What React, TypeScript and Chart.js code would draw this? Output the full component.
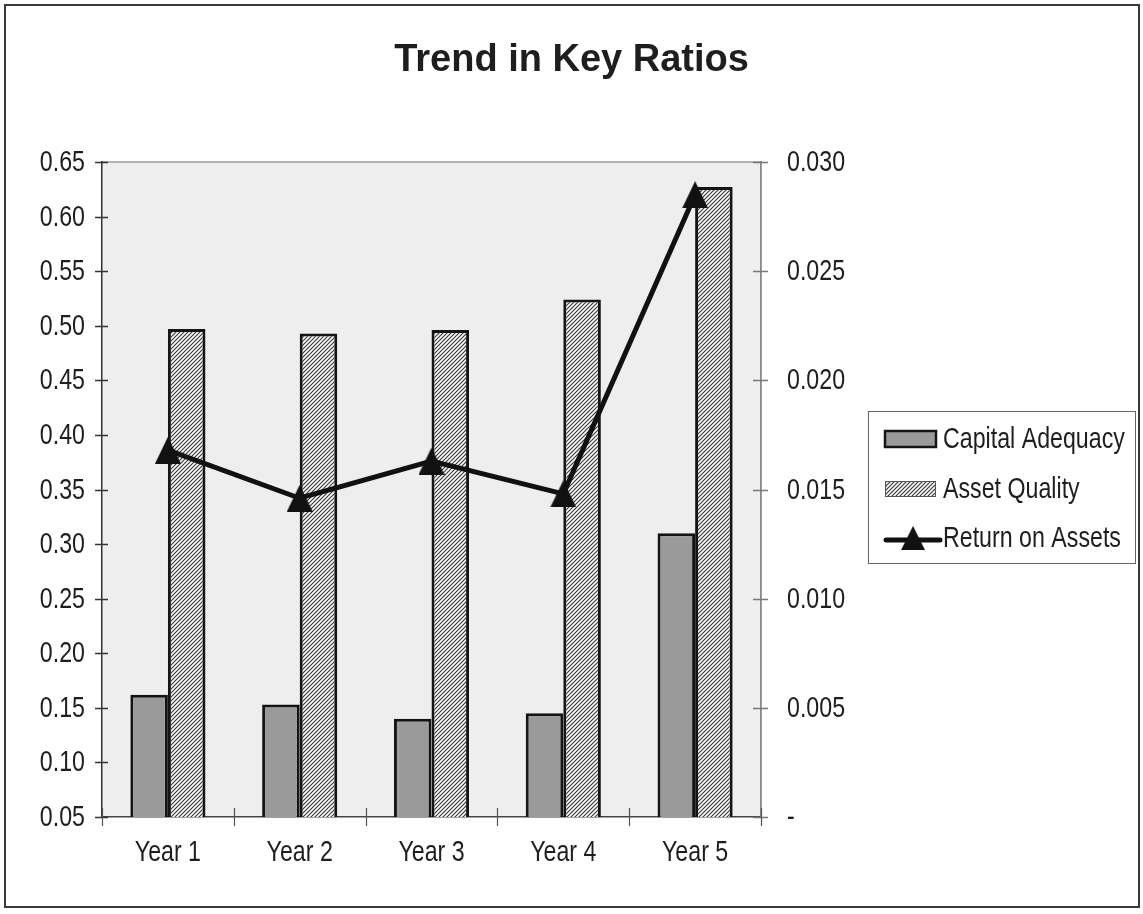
import React, { useEffect, useRef } from "react";
import { Chart, registerables } from "chart.js";

Chart.register(...registerables);

const categories = ["Year 1", "Year 2", "Year 3", "Year 4", "Year 5"];
const capitalAdequacy = [0.162, 0.153, 0.14, 0.145, 0.31];
const assetQuality = [0.497, 0.493, 0.496, 0.524, 0.627];
const returnOnAssets = [0.0168, 0.0146, 0.0163, 0.0148, 0.0285];
const seriesLabels = ["Capital Adequacy", "Asset Quality", "Return on Assets"];
const chartTitle = "Trend in Key Ratios";
const leftMin = 0.05;
const leftMax = 0.65;
const leftStep = 0.05;
const rightMin = 0;
const rightMax = 0.03;
const rightStep = 0.005;

const FONT = '"Liberation Sans", Arial, sans-serif';
const W = 1143;
const H = 914;
const TEXT = "#1e1e1e";
const GRAY_FILL = "#9a9a9a";
const SX = 0.8; // horizontal squeeze to mimic a narrow face
const LABEL_SIZE = 29;

function makeHatch(): CanvasPattern | string {
  const s = 4;
  const c = document.createElement("canvas");
  c.width = s;
  c.height = s;
  const g = c.getContext("2d");
  if (!g) return "#cccccc";
  g.fillStyle = "#ffffff";
  g.fillRect(0, 0, s, s);
  g.strokeStyle = "#3a3a3a";
  g.lineWidth = 1.2;
  g.beginPath();
  g.moveTo(0, s);
  g.lineTo(s, 0);
  g.moveTo(-1, 1);
  g.lineTo(1, -1);
  g.moveTo(s - 1, s + 1);
  g.lineTo(s + 1, s - 1);
  g.stroke();
  return g.createPattern(c, "repeat") || "#cccccc";
}

function makeTriangle(w: number, h: number): HTMLCanvasElement {
  const c = document.createElement("canvas");
  c.width = w;
  c.height = h;
  const g = c.getContext("2d");
  if (g) {
    g.fillStyle = "#111111";
    g.beginPath();
    g.moveTo(w / 2, 0);
    g.lineTo(w, h);
    g.lineTo(0, h);
    g.closePath();
    g.fill();
  }
  return c;
}

function squeezedText(
  ctx: CanvasRenderingContext2D,
  text: string,
  x: number,
  y: number,
  align: CanvasTextAlign,
  font: string,
  sx: number
) {
  ctx.save();
  ctx.font = font;
  ctx.textAlign = align;
  ctx.textBaseline = "middle";
  ctx.translate(x, y);
  ctx.scale(sx, 1);
  ctx.fillText(text, 0, 0);
  ctx.restore();
}

export default function App() {
  const ref = useRef<HTMLCanvasElement | null>(null);

  useEffect(() => {
    document.body.style.margin = "0";
    const canvas = ref.current;
    if (!canvas) return;
    const hatch = makeHatch();
    const tri = makeTriangle(26, 27);

    const framePlugin = {
      id: "frame",
      beforeDraw(chart: any) {
        const { ctx, chartArea: a } = chart;
        ctx.save();
        ctx.fillStyle = "#ffffff";
        ctx.fillRect(0, 0, W, H);
        ctx.fillStyle = "#eeeeee";
        ctx.fillRect(a.left, a.top, a.right - a.left, a.bottom - a.top);
        ctx.strokeStyle = "#9a9a9a";
        ctx.lineWidth = 1.5;
        ctx.beginPath();
        ctx.moveTo(a.left, a.top);
        ctx.lineTo(a.right, a.top);
        ctx.lineTo(a.right, a.bottom);
        ctx.stroke();
        ctx.restore();
      },
      afterDraw(chart: any) {
        const { ctx, chartArea: a } = chart;
        const yL = chart.scales.y;
        const yR = chart.scales.y1;
        const xs = chart.scales.x;
        const labelFont = `${LABEL_SIZE}px ${FONT}`;
        ctx.save();
        // outer border
        ctx.strokeStyle = "#3a3a3a";
        ctx.lineWidth = 2;
        ctx.strokeRect(5, 5, 1134, 902);

        // crossing tick marks + labels
        ctx.fillStyle = TEXT;
        ctx.strokeStyle = "#333333";
        ctx.lineWidth = 1.5;
        ctx.beginPath();
        yL.ticks.forEach((t: any) => {
          const y = Math.round(yL.getPixelForValue(t.value)) + 0.5;
          ctx.moveTo(a.left - 7, y);
          ctx.lineTo(a.left + 6, y);
        });
        ctx.stroke();
        yL.ticks.forEach((t: any) => {
          const y = yL.getPixelForValue(t.value);
          squeezedText(ctx, String(t.label), 85, y + 1, "right", labelFont, SX);
        });

        ctx.strokeStyle = "#777777";
        ctx.beginPath();
        yR.ticks.forEach((t: any) => {
          const y = Math.round(yR.getPixelForValue(t.value)) + 0.5;
          ctx.moveTo(a.right - 8, y);
          ctx.lineTo(a.right + 7, y);
        });
        ctx.stroke();
        yR.ticks.forEach((t: any) => {
          const y = yR.getPixelForValue(t.value);
          squeezedText(ctx, String(t.label), 787, y + 1, "left", labelFont, SX);
        });

        ctx.strokeStyle = "#555555";
        ctx.lineWidth = 1.2;
        ctx.beginPath();
        const n = categories.length;
        const cw = (xs.right - xs.left) / n;
        for (let i = 0; i <= n; i++) {
          const x = Math.round(xs.left + i * cw) + 0.5;
          ctx.moveTo(x, a.bottom - 9);
          ctx.lineTo(x, a.bottom + 9);
        }
        ctx.stroke();
        xs.ticks.forEach((t: any, i: number) => {
          const x = xs.getPixelForTick(i);
          squeezedText(ctx, String(t.label), x, 853, "center", labelFont, SX);
        });

        // title
        ctx.save();
        ctx.font = `bold 38px ${FONT}`;
        const tw = ctx.measureText(chartTitle).width;
        ctx.restore();
        squeezedText(ctx, chartTitle, W / 2, 61, "center", `bold 38px ${FONT}`, Math.min(1, 372 / tw));

        // legend
        const bx = 868;
        const by = 411;
        ctx.strokeStyle = "#666666";
        ctx.lineWidth = 1;
        ctx.fillStyle = "#ffffff";
        ctx.fillRect(bx, by, 267, 152);
        ctx.strokeRect(bx + 0.5, by + 0.5, 267, 152);
        const rows = [439, 489, 538];
        const ds = chart.data.datasets;
        ctx.fillStyle = GRAY_FILL;
        ctx.fillRect(885, rows[0] - 8, 51, 16);
        ctx.strokeStyle = "#151515";
        ctx.lineWidth = 2.5;
        ctx.strokeRect(885, rows[0] - 8, 51, 16);
        ctx.fillStyle = hatch as any;
        ctx.fillRect(885, rows[1] - 8, 51, 16);
        ctx.strokeStyle = "#555555";
        ctx.lineWidth = 1;
        ctx.strokeRect(885.5, rows[1] - 7.5, 50, 15);
        ctx.strokeStyle = "#111111";
        ctx.lineWidth = 5;
        ctx.lineCap = "round";
        ctx.beginPath();
        ctx.moveTo(886, rows[2] + 2);
        ctx.lineTo(940, rows[2] + 2);
        ctx.stroke();
        ctx.drawImage(tri, 913 - 12, rows[2] - 12, 24, 24);
        ctx.fillStyle = TEXT;
        rows.forEach((ry, i) => {
          squeezedText(ctx, ds[i].label, 943, ry + 1, "left", labelFont, SX);
        });
        ctx.restore();
      },
    };

    const chart = new Chart(canvas, {
      type: "bar",
      data: {
        labels: categories,
        datasets: [
          {
            type: "bar",
            label: seriesLabels[0],
            data: capitalAdequacy,
            backgroundColor: GRAY_FILL,
            borderColor: "#141414",
            borderWidth: 3,
            yAxisID: "y",
            order: 1,
            categoryPercentage: 0.57,
            barPercentage: 1,
          },
          {
            type: "bar",
            label: seriesLabels[1],
            data: assetQuality,
            backgroundColor: hatch as any,
            borderColor: "#141414",
            borderWidth: 3,
            yAxisID: "y",
            order: 1,
            categoryPercentage: 0.57,
            barPercentage: 1,
          },
          {
            type: "line",
            label: seriesLabels[2],
            data: returnOnAssets,
            borderColor: "#111111",
            backgroundColor: "#111111",
            borderWidth: 5,
            pointStyle: tri,
            pointRadius: 14,
            tension: 0,
            yAxisID: "y1",
            order: 0,
          },
        ] as any,
      },
      options: {
        responsive: false,
        animation: false,
        devicePixelRatio: 1,
        layout: { padding: { top: 162, right: 282, bottom: 0, left: 0 } },
        plugins: {
          legend: { display: false },
          title: { display: false },
          tooltip: { enabled: false },
        },
        scales: {
          x: {
            type: "category",
            offset: true,
            grid: { display: false, drawTicks: false },
            border: { display: true, color: "#444444", width: 1.5 },
            ticks: { display: false },
            afterFit: (s: any) => {
              s.height = 97;
            },
          },
          y: {
            position: "left",
            min: leftMin,
            max: leftMax,
            grid: { display: false, drawTicks: false },
            border: { display: true, color: "#333333", width: 1.5 },
            ticks: {
              display: false,
              stepSize: leftStep,
              callback: (v: any) => Number(v).toFixed(2),
            },
            afterFit: (s: any) => {
              s.width = 102;
            },
          },
          y1: {
            position: "right",
            min: rightMin,
            max: rightMax,
            grid: { display: false, drawTicks: false },
            border: { display: true, color: "#8a8a8a", width: 1.5 },
            ticks: {
              display: false,
              stepSize: rightStep,
              callback: (v: any) => (Math.abs(Number(v)) < 1e-9 ? "-" : Number(v).toFixed(3)),
            },
            afterFit: (s: any) => {
              s.width = 100;
            },
          },
        },
      } as any,
      plugins: [framePlugin],
    });

    return () => chart.destroy();
  }, []);

  return (
    <div style={{ width: W, height: H }}>
      <canvas ref={ref} width={W} height={H} style={{ display: "block", width: W, height: H }} />
    </div>
  );
}
